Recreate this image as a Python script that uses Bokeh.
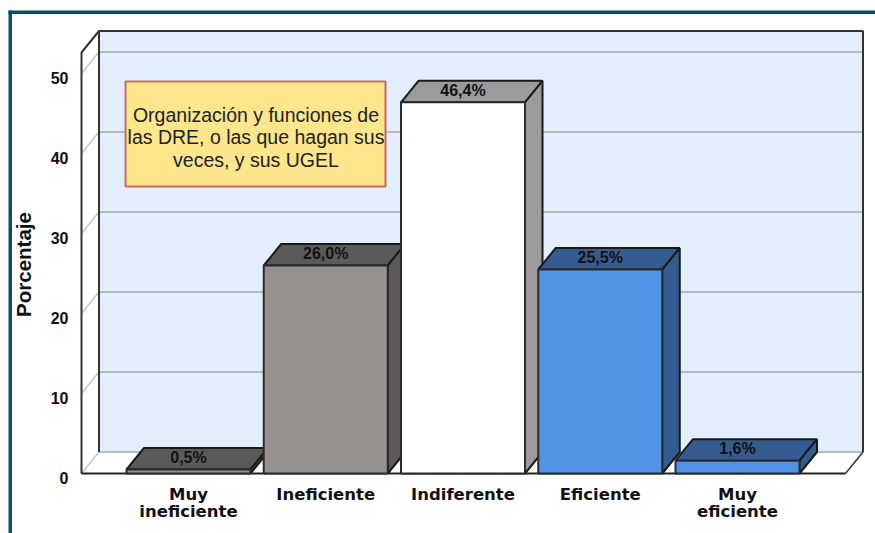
from bokeh.plotting import figure
from bokeh.models import Range1d, LinearAxis, FixedTicker
from bokeh.core.properties import value as V
from bokeh.embed import file_html
from bokeh.resources import INLINE

categories = ["Muy\nineficiente", "Ineficiente", "Indiferente", "Eficiente", "Muy\neficiente"]
percentages = [0.5, 26.0, 46.4, 25.5, 1.6]
labels = ["0,5%", "26,0%", "46,4%", "25,5%", "1,6%"]
face_colors = ["#96918f", "#96918f", "#ffffff", "#5193e5", "#5193e5"]
depth_colors = ["#5c5a58", "#5c5a58", "#9b9b9b", "#345c90", "#345c90"]
y_ticks = [0, 10, 20, 30, 40, 50]
note = "Organización y funciones de\nlas DRE, o las que hagan sus\nveces, y sus UGEL"

# layout: pixel scale of the chart on the page
W, H = 875, 533
X0, XS = 188.0, 137.25   # page x of first category, px per category
Y0, YS = 473.0, 8.0      # page y of value 0, px per percent
def dx(px): return (px - X0) / XS
def dy(py): return (Y0 - py) / YS

DX, DY = 17.5 / XS, 21.5 / YS
BAR = 124 / XS
xl, xr = dx(81), dx(845)
ytop = dy(52)

p = figure(width=W, height=H, output_backend="svg", toolbar_location=None,
           x_range=Range1d(dx(0), dx(W)), y_range=Range1d(dy(H), dy(0)),
           x_axis_type=None, y_axis_type=None, min_border=0, outline_line_color=None)
p.grid.visible = False
p.background_fill_color = "white"
p.border_fill_color = "white"
p.extra_y_ranges = {"lab": Range1d(dy(H) + 0.5, dy(0) + 0.5)}

TEAL = "#0c4d66"
# outer frame of the picture
p.quad(left=dx(8), right=dx(875), top=dy(10), bottom=dy(13.5), fill_color=TEAL, line_color=None)
p.quad(left=dx(8), right=dx(11.5), top=dy(10), bottom=dy(533), fill_color=TEAL, line_color=None)

# back wall
p.quad(left=xl + DX, right=xr + DX, top=ytop + DY, bottom=DY, fill_color="#e2eefb", line_color=None)

# grid lines on back wall and left wall
for t in y_ticks:
    p.line([xl + DX, xr + DX], [t + DY, t + DY], line_color="#b9b9b9", line_width=2)
    p.line([xl, xl + DX], [t, t + DY], line_color="#c8c8c8", line_width=1.5)

# walls' outline
DARK = "#333333"
p.line([xl, xl, xl + DX, xr + DX, xr + DX], [0, ytop, ytop + DY, ytop + DY, DY],
       line_color=DARK, line_width=2)
p.line([xl + DX, xl + DX], [DY, ytop + DY], line_color=DARK, line_width=2)
p.line([xr, xr + DX], [0, DY], line_color=DARK, line_width=1.5)
p.line([xl, xr], [0, 0], line_color="#222222", line_width=2.2)

# note box
p.quad(left=dx(125), right=dx(385), top=dy(81), bottom=dy(186), fill_color="#fde68c",
       line_color="#c86a60", line_width=2)
p.text(x=[dx(255.5)], y=[dy(137)], text=[note], text_align="center", text_baseline="middle",
       text_font=V("Liberation Sans"), text_font_size="19.5px", text_color="#222222",
       text_line_height=1.03)

# bars: depth faces first, then fronts
for i, v in enumerate(percentages):
    l, r = i - BAR / 2, i + BAR / 2
    p.patch([l, r, r + DX, l + DX], [v, v, v + DY, v + DY], fill_color=depth_colors[i],
            line_color="#1a1a1a", line_width=2)
    p.patch([r, r + DX, r + DX, r], [0, DY, v + DY, v], fill_color=depth_colors[i],
            line_color="#1a1a1a", line_width=2)
for i, v in enumerate(percentages):
    p.quad(left=i - BAR / 2, right=i + BAR / 2, top=v, bottom=0, fill_color=face_colors[i],
           line_color="#2b2b2b", line_width=2)

p.text(x=list(range(5)), y=percentages, text=labels, text_align="center", text_baseline="middle",
       y_offset=-12, text_font=V("Liberation Sans"), text_font_style="bold",
       text_font_size="16px", text_color="#111111")

# axes
yax = LinearAxis(y_range_name="lab", fixed_location=dx(78), ticker=FixedTicker(ticks=y_ticks),
                 bounds=(0.0, 53.25), axis_label="Porcentaje")
yax.axis_line_color = None
yax.major_tick_line_color = None
yax.minor_tick_line_color = None
yax.major_label_standoff = 4
yax.major_label_text_font = "Liberation Sans"
yax.major_label_text_font_style = "bold"
yax.major_label_text_font_size = "16px"
yax.major_label_text_color = "#111111"
yax.axis_label_text_font = "Liberation Sans"
yax.axis_label_text_font_style = "bold"
yax.axis_label_text_font_size = "20.5px"
yax.axis_label_text_color = "#111111"
yax.axis_label_standoff = 13
p.add_layout(yax, "left")

xax = LinearAxis(fixed_location=0, ticker=FixedTicker(ticks=list(range(5))),
                 major_label_overrides={i: c for i, c in enumerate(categories)})
xax.axis_line_color = None
xax.major_tick_line_color = None
xax.minor_tick_line_color = None
xax.major_label_standoff = 5
xax.major_label_text_font = "DejaVu Sans"
xax.major_label_text_font_style = "bold"
xax.major_label_text_font_size = "16.5px"
xax.major_label_text_color = "#111111"
xax.major_label_text_line_height = 0.93
p.add_layout(xax, "below")

open("out.html", "w").write(file_html(p, INLINE))
